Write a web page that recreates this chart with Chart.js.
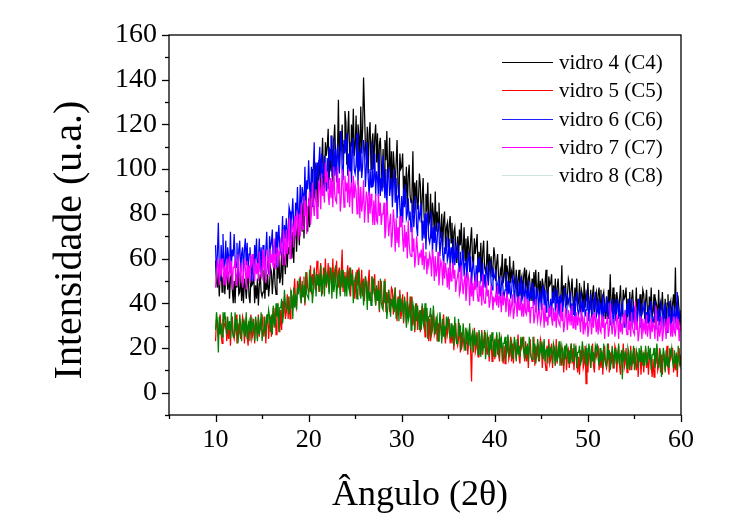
<!DOCTYPE html>
<html>
<head>
<meta charset="utf-8">
<script src="https://cdn.jsdelivr.net/npm/chart.js@4/dist/chart.umd.min.js"></script>
<style>
html,body{margin:0;padding:0;background:#fff;}
#wrap{width:743px;height:522px;}
</style>
</head>
<body>
<div id="wrap"><canvas id="c" width="743" height="522"></canvas></div>
<script>
// ---- data (2θ in degrees, intensity in u.a.) ----
const angles = [
10,10.1,10.2,10.3,10.4,10.5,10.6,10.7,10.8,10.9,11,11.1,11.2,11.3,11.4,11.5,11.6,11.7,11.8,11.9,
12,12.1,12.2,12.3,12.4,12.5,12.6,12.7,12.8,12.9,13,13.1,13.2,13.3,13.4,13.5,13.6,13.7,13.8,13.9,
14,14.1,14.2,14.3,14.4,14.5,14.6,14.7,14.8,14.9,15,15.1,15.2,15.3,15.4,15.5,15.6,15.7,15.8,15.9,
16,16.1,16.2,16.3,16.4,16.5,16.6,16.7,16.8,16.9,17,17.1,17.2,17.3,17.4,17.5,17.6,17.7,17.8,17.9,
18,18.1,18.2,18.3,18.4,18.5,18.6,18.7,18.8,18.9,19,19.1,19.2,19.3,19.4,19.5,19.6,19.7,19.8,19.9,
20,20.1,20.2,20.3,20.4,20.5,20.6,20.7,20.8,20.9,21,21.1,21.2,21.3,21.4,21.5,21.6,21.7,21.8,21.9,
22,22.1,22.2,22.3,22.4,22.5,22.6,22.7,22.8,22.9,23,23.1,23.2,23.3,23.4,23.5,23.6,23.7,23.8,23.9,
24,24.1,24.2,24.3,24.4,24.5,24.6,24.7,24.8,24.9,25,25.1,25.2,25.3,25.4,25.5,25.6,25.7,25.8,25.9,
26,26.1,26.2,26.3,26.4,26.5,26.6,26.7,26.8,26.9,27,27.1,27.2,27.3,27.4,27.5,27.6,27.7,27.8,27.9,
28,28.1,28.2,28.3,28.4,28.5,28.6,28.7,28.8,28.9,29,29.1,29.2,29.3,29.4,29.5,29.6,29.7,29.8,29.9,
30,30.1,30.2,30.3,30.4,30.5,30.6,30.7,30.8,30.9,31,31.1,31.2,31.3,31.4,31.5,31.6,31.7,31.8,31.9,
32,32.1,32.2,32.3,32.4,32.5,32.6,32.7,32.8,32.9,33,33.1,33.2,33.3,33.4,33.5,33.6,33.7,33.8,33.9,
34,34.1,34.2,34.3,34.4,34.5,34.6,34.7,34.8,34.9,35,35.1,35.2,35.3,35.4,35.5,35.6,35.7,35.8,35.9,
36,36.1,36.2,36.3,36.4,36.5,36.6,36.7,36.8,36.9,37,37.1,37.2,37.3,37.4,37.5,37.6,37.7,37.8,37.9,
38,38.1,38.2,38.3,38.4,38.5,38.6,38.7,38.8,38.9,39,39.1,39.2,39.3,39.4,39.5,39.6,39.7,39.8,39.9,
40,40.1,40.2,40.3,40.4,40.5,40.6,40.7,40.8,40.9,41,41.1,41.2,41.3,41.4,41.5,41.6,41.7,41.8,41.9,
42,42.1,42.2,42.3,42.4,42.5,42.6,42.7,42.8,42.9,43,43.1,43.2,43.3,43.4,43.5,43.6,43.7,43.8,43.9,
44,44.1,44.2,44.3,44.4,44.5,44.6,44.7,44.8,44.9,45,45.1,45.2,45.3,45.4,45.5,45.6,45.7,45.8,45.9,
46,46.1,46.2,46.3,46.4,46.5,46.6,46.7,46.8,46.9,47,47.1,47.2,47.3,47.4,47.5,47.6,47.7,47.8,47.9,
48,48.1,48.2,48.3,48.4,48.5,48.6,48.7,48.8,48.9,49,49.1,49.2,49.3,49.4,49.5,49.6,49.7,49.8,49.9,
50,50.1,50.2,50.3,50.4,50.5,50.6,50.7,50.8,50.9,51,51.1,51.2,51.3,51.4,51.5,51.6,51.7,51.8,51.9,
52,52.1,52.2,52.3,52.4,52.5,52.6,52.7,52.8,52.9,53,53.1,53.2,53.3,53.4,53.5,53.6,53.7,53.8,53.9,
54,54.1,54.2,54.3,54.4,54.5,54.6,54.7,54.8,54.9,55,55.1,55.2,55.3,55.4,55.5,55.6,55.7,55.8,55.9,
56,56.1,56.2,56.3,56.4,56.5,56.6,56.7,56.8,56.9,57,57.1,57.2,57.3,57.4,57.5,57.6,57.7,57.8,57.9,
58,58.1,58.2,58.3,58.4,58.5,58.6,58.7,58.8,58.9,59,59.1,59.2,59.3,59.4,59.5,59.6,59.7,59.8,59.9,
60];

const vidro4 = [
59,50,47,55,43,53,57,45,51,53, 44,52,56,46,54,42,51,53,46,40,
50,40,53,47,55,44,45,53,41,50, 40,51,48,42,49,55,43,40,52,48,
49,53,40,48,42,51,39,48,53,45, 43,45,55,42,51,46,53,43,48,56,
54,44,52,58,48,44,57,51,62,49, 52,63,48,62,60,53,70,56,65,62,
73,63,60,72,58,72,77,63,73,77, 66,79,86,72,85,69,83,88,79,72,
87,74,94,87,100,85,88,103,86,100, 83,104,99,90,103,114,95,91,112,106,
110,118,95,109,99,115,94,112,120,105, 103,107,131,99,117,108,120,104,111,126,
121,102,116,126,107,99,120,110,127,106, 110,124,101,120,115,104,128,107,118,141,
126,110,104,119,98,116,121,100,112,116, 100,114,120,103,116,95,111,114,103,92,
109,92,113,104,117,97,99,114,92,108, 88,108,101,92,103,113,92,87,107,100,
101,107,87,97,88,101,81,97,102,88, 85,89,108,80,94,85,95,82,86,98,
93,76,87,96,79,72,89,81,94,75, 77,89,69,85,80,71,90,72,81,76,
85,74,69,80,64,77,81,65,74,76, 65,75,79,67,76,61,72,74,66,58,
70,58,73,66,76,62,63,74,59,69, 56,70,65,58,68,74,60,56,69,62,
66,71,54,63,56,67,50,63,68,56, 54,57,68,50,62,55,61,52,56,65,
61,50,58,62,52,47,55,53,62,49, 52,60,47,57,54,47,61,49,54,51,
59,50,47,55,43,51,55,43,50,52, 44,52,56,47,55,42,51,53,47,41,
51,41,54,47,55,44,46,54,41,50, 40,51,48,42,49,55,44,41,52,48,
49,53,40,48,42,51,38,47,51,43, 41,43,57,39,48,43,49,39,43,51,
49,38,46,51,41,35,47,41,51,38, 41,49,36,46,44,37,50,38,44,41,
49,40,37,46,34,44,48,36,43,45, 36,44,47,38,46,34,43,45,39,33,
43,33,46,40,53,37,39,47,35,44, 34,45,41,35,42,48,37,34,46,42,
43,47,34,42,36,45,32,42,46,38, 36,37,47,33,42,37,44,34,38,46,
44,33,41,46,36,31,43,37,47,34, 36,44,31,41,39,32,46,34,40,37,
45,36,33,42,30,40,44,32,39,41, 32,40,44,35,56,31,40,42,36,30,
37];

const vidro5 = [
23,33,30,25,31,35,26,22,33,29, 31,34,23,29,24,32,21,30,34,26,
24,27,35,22,31,26,32,24,27,34, 32,22,29,34,25,21,32,27,35,24,
26,33,22,31,29,24,35,25,31,28, 35,28,25,34,22,32,35,24,31,34,
25,33,38,29,38,26,35,38,32,27, 37,28,41,35,43,33,36,44,33,43,
33,45,43,37,44,51,40,38,50,47, 48,52,40,48,43,52,39,48,54,47,
45,47,57,44,53,48,56,46,51,59, 56,45,53,58,48,44,56,50,60,47,
50,58,45,55,53,46,60,48,54,51, 59,50,47,56,44,54,64,45,52,54,
45,53,57,48,56,43,52,55,48,42, 52,42,55,48,56,45,47,55,43,51,
41,52,49,42,49,55,44,41,52,48, 49,53,39,47,41,50,36,46,50,41,
39,41,51,36,45,40,46,36,41,47, 46,35,42,47,37,32,43,37,46,33,
36,44,31,41,38,31,45,33,38,36, 43,34,30,39,27,36,40,28,35,36,
27,35,39,32,38,25,34,36,29,23, 33,23,35,28,37,26,28,34,23,31,
23,33,29,24,30,35,26,22,30,26, 30,33,22,26,22,30,19,26,31,23,
21,24,31,18,27,22,25,20,22,28, 27,17,24,29,19,5,26,21,29,18,
20,27,16,25,23,17,28,17,23,20, 27,20,17,25,14,23,25,14,21,23,
15,22,26,17,24,14,21,24,18,13, 21,13,23,18,25,15,17,25,14,22,
13,23,20,15,21,26,16,13,24,20, 22,25,14,20,14,22,11,20,24,16,
14,17,25,12,21,16,22,14,17,24, 22,11,18,23,14,10,21,16,24,13,
15,22,11,20,18,12,24,13,19,16, 22,15,12,20,9,18,21,10,17,19,
11,18,22,13,20,10,17,20,14,9, 16,8,19,14,21,11,13,21,4,18,
9,19,16,11,17,22,12,9,20,16, 18,21,10,16,11,19,8,17,21,13,
11,14,22,9,18,13,19,11,14,21, 19,9,16,21,12,8,19,14,22,11,
13,20,9,18,15,10,21,10,16,13, 20,13,10,18,7,16,19,8,15,17,
9,16,20,11,18,8,15,18,12,7, 15,7,18,13,20,10,12,20,9,17,
8,18,15,10,16,21,11,8,19,15, 17,20,9,15,10,18,7,16,20,12,
17];

const vidro6 = [
66,52,62,76,56,50,66,59,71,55, 58,68,52,65,61,54,72,56,64,61,
71,60,56,67,52,64,68,53,62,65, 54,64,69,57,67,52,62,65,57,50,
62,50,66,59,69,56,58,69,54,65, 52,66,61,55,64,72,57,53,70,65,
67,73,57,66,60,72,56,67,75,65, 63,67,79,62,75,69,78,67,73,83,
81,68,79,87,75,70,85,79,92,77, 80,93,75,92,89,82,101,84,95,91,
104,92,87,101,83,100,112,87,99,103, 91,103,110,96,107,91,101,106,98,90,
105,91,110,104,115,98,100,114,97,109, 94,111,106,98,109,117,100,95,113,107,
110,116,97,107,99,112,93,108,114,100, 98,102,116,93,108,99,110,96,101,113,
109,92,101,112,96,88,100,92,112,92, 95,107,88,99,96,87,107,88,96,90,
106,93,87,100,82,97,101,88,92,96, 83,95,100,85,96,78,88,93,83,75,
88,76,91,83,93,78,80,87,77,81, 72,86,81,74,82,88,74,70,84,78,
80,85,68,77,69,80,64,76,81,69, 67,70,81,62,74,67,75,63,68,76,
72,61,68,72,62,57,65,62,70,59, 61,69,55,65,62,55,69,57,63,60,
67,58,54,63,51,60,64,52,58,60, 51,59,63,54,61,48,56,58,53,47,
57,47,60,54,61,50,52,58,47,53, 47,57,53,48,54,59,49,46,56,51,
52,55,44,48,44,52,40,48,52,45, 43,46,54,41,50,44,50,42,45,52,
50,40,47,52,43,38,49,44,52,41, 43,50,39,47,45,40,50,40,45,42,
49,42,39,47,36,44,47,36,43,45, 37,44,48,39,46,36,42,45,39,34,
42,34,45,40,47,37,39,46,35,43, 34,44,41,36,42,47,37,33,44,40,
42,45,34,40,35,43,32,41,45,37, 35,38,45,32,41,36,42,34,37,44,
42,32,39,44,35,31,42,37,45,34, 36,42,31,40,38,32,44,33,39,36,
43,36,33,41,30,39,42,31,38,40, 32,38,42,33,40,30,37,40,34,29,
37,29,40,35,42,32,34,42,31,39, 30,39,36,31,37,42,32,29,40,36,
38,41,30,36,31,39,28,37,41,33, 31,34,41,28,37,32,38,30,33,40,
38,28,35,40,31,27,38,33,41,30, 32,39,28,37,35,29,45,30,36,33,
32];

const vidro7 = [
47,53,59,57,48,60,52,60,56,48, 57,48,60,52,50,61,53,59,46,56,
56,60,48,51,62,56,49,55,58,47, 52,60,56,46,59,51,57,49,62,58,
62,54,50,60,53,58,50,63,55,52, 51,64,55,61,49,55,64,58,52,64,
58,62,56,69,55,62,65,56,63,62, 68,66,57,73,69,57,73,62,67,78,
60,68,76,74,65,79,70,80,78,68, 80,70,85,75,73,88,79,86,71,83,
84,90,75,80,94,85,79,86,91,78, 84,95,91,82,98,88,91,85,103,94,
99,89,84,96,87,95,83,101,89,86, 85,101,89,96,81,87,100,93,83,97,
90,94,85,100,83,91,94,80,97,87, 93,90,80,95,91,78,92,81,85,95,
76,83,90,87,76,90,80,89,83,75, 86,75,89,77,76,89,79,85,75,80,
80,85,69,73,86,79,70,76,80,65, 71,82,76,63,78,67,74,65,79,74,
79,69,63,75,65,72,60,77,67,62, 61,74,63,69,56,61,70,64,57,62,
61,64,57,67,55,61,63,53,60,57, 62,60,52,64,60,50,61,52,55,63,
48,54,59,57,48,59,51,58,54,47, 56,46,58,50,52,58,51,55,45,50,
52,56,44,46,57,49,44,50,52,41, 46,54,50,39,52,43,49,41,50,46,
53,45,41,50,43,48,39,53,42,40, 40,50,43,46,38,41,48,43,37,42,
41,44,39,48,38,43,43,36,45,39, 43,42,36,44,42,34,42,36,39,44,
33,37,42,40,34,43,37,43,40,34, 40,34,43,36,35,42,36,41,31,38,
38,41,31,34,42,36,32,36,37,31, 33,40,37,29,39,32,34,30,38,35,
39,33,30,38,32,36,29,40,33,31, 30,40,32,36,27,31,38,34,28,37,
32,35,30,39,29,34,34,28,36,30, 34,33,27,36,34,26,34,28,31,36,
25,29,34,32,26,35,29,36,33,27, 33,26,35,28,27,35,29,34,24,31,
31,34,25,28,40,32,26,31,33,25, 28,35,32,24,34,27,31,26,35,32,
35,29,26,34,28,32,25,36,29,27, 26,41,28,32,23,27,34,30,24,33,
28,31,26,35,25,30,31,24,33,27, 31,30,24,39,31,23,32,25,28,34,
23,27,32,30,24,33,27,34,31,25, 31,25,34,27,26,34,28,33,23,30,
28];

const vidro8 = [
28,36,32,18,34,26,31,25,36,33, 36,29,26,34,28,32,24,36,28,25,
25,36,28,33,22,26,35,30,23,33, 28,31,25,36,24,30,32,23,34,27,
32,30,23,34,31,23,34,26,29,36, 23,28,34,31,25,35,31,37,34,27,
35,26,39,31,30,40,34,40,27,38, 38,42,31,35,46,40,37,39,43,35,
38,46,43,33,47,38,44,37,47,44, 51,43,40,50,43,48,40,54,44,43,
42,55,45,52,40,45,55,50,43,53, 48,51,45,57,43,50,53,43,56,48,
53,51,44,56,52,42,54,45,48,57, 42,48,54,52,43,55,47,55,51,43,
52,43,55,47,45,56,48,53,40,50, 50,54,42,45,55,49,42,47,50,39,
44,52,48,37,50,41,45,39,52,44, 51,43,39,48,41,46,37,51,40,38,
37,50,40,45,33,38,46,41,34,42, 39,42,36,47,33,39,42,32,44,36,
41,39,32,43,39,29,41,32,34,43, 28,34,40,37,28,40,32,39,34,28,
37,28,40,31,29,40,32,38,24,34, 34,38,26,28,39,31,26,32,34,23,
28,36,32,22,33,25,30,24,34,30, 34,27,24,31,25,30,21,34,25,22,
22,33,25,30,19,23,31,26,19,29, 24,27,21,31,19,25,27,18,28,21,
26,24,17,28,25,16,27,19,21,28, 15,20,26,23,16,26,19,27,23,16,
24,16,27,19,17,27,20,25,14,22, 22,25,16,18,26,22,16,21,23,15,
18,25,22,14,24,17,21,16,25,22, 25,18,15,23,17,21,14,25,18,16,
15,25,18,22,13,17,24,20,14,23, 18,21,15,24,14,19,20,13,22,16,
20,19,13,22,20,12,21,14,17,23, 12,16,21,18,12,21,15,22,19,13,
19,13,22,15,14,22,16,21,11,18, 18,21,12,15,23,19,13,18,20,12,
15,22,19,11,21,14,18,13,21,19, 22,15,12,20,14,18,11,22,15,13,
12,22,15,19,10,14,21,17,11,20, 15,18,13,22,12,17,18,6,20,14,
18,17,11,20,18,10,19,12,15,21, 10,14,19,17,11,20,14,21,18,12,
18,12,21,14,13,21,15,20,10,17, 17,20,11,14,22,17,11,16,18,7,
13,20,17,9,19,12,16,11,20,17, 20,14,11,19,13,17,10,21,14,12,
15];

const seriesNames = ['vidro 4 (C4)','vidro 5 (C5)','vidro 6 (C6)','vidro 7 (C7)','vidro 8 (C8)'];
const seriesValues = [vidro4, vidro5, vidro6, vidro7, vidro8];
const xTickLabels = [10,20,30,40,50,60];
const yTickLabels = [0,20,40,60,80,100,120,140,160];
const xTitle = 'Ângulo (2θ)';
const yTitle = 'Intensidade (u.a.)';

// ---- styling ----
const lineColors = ['#000000','#ff0000','#0000ff','#ff00ff','#008000'];
const legendColors = ['#000000','#ff0000','#2020ff','#ff00ff','#cfe4dc'];
const FONT = '"Liberation Serif","Times New Roman",serif';

const datasets = seriesValues.map((vals, i) => ({
  label: seriesNames[i],
  data: vals.map((v, j) => ({x: angles[j], y: v})),
  borderColor: lineColors[i],
  borderWidth: 1.25,
  pointRadius: 0,
  tension: 0,
  fill: false,
  order: seriesValues.length - i
}));

const decor = {
  id: 'decor',
  beforeDraw(chart) {
    const ctx = chart.ctx;
    ctx.save();
    ctx.fillStyle = '#fff';
    ctx.fillRect(0, 0, chart.width, chart.height);
    ctx.restore();
  },
  afterDraw(chart) {
    const ctx = chart.ctx;
    const a = chart.chartArea;
    const xs = chart.scales.x, ys = chart.scales.y;
    ctx.save();
    ctx.strokeStyle = '#000';
    ctx.lineWidth = 1.3;
    ctx.strokeRect(a.left, a.top, a.right - a.left, a.bottom - a.top);
    for (let v = xs.min; v <= xs.max + 1e-6; v += 5) {
      const px = Math.round(xs.getPixelForValue(v)) + 0.5;
      const len = (v % 10 === 0) ? 7 : 4;
      ctx.beginPath(); ctx.moveTo(px, a.bottom); ctx.lineTo(px, a.bottom + len); ctx.stroke();
    }
    for (let v = ys.min; v <= ys.max + 1e-6; v += 10) {
      const py = Math.round(ys.getPixelForValue(v)) + 0.5;
      const len = (v % 20 === 0) ? 7 : 4;
      ctx.beginPath(); ctx.moveTo(a.left, py); ctx.lineTo(a.left - len, py); ctx.stroke();
    }
    ctx.fillStyle = '#000';
    ctx.font = '36px ' + FONT;
    ctx.textAlign = 'center';
    ctx.textBaseline = 'alphabetic';
    ctx.fillText(xTitle, 420, 505);
    ctx.save();
    ctx.translate(81, 240);
    ctx.rotate(-Math.PI / 2);
    ctx.font = '40px ' + FONT;
    ctx.fillText(yTitle, 0, 0);
    ctx.restore();
    ctx.font = '21px ' + FONT;
    ctx.textAlign = 'left';
    ctx.textBaseline = 'middle';
    seriesNames.forEach((name, i) => {
      const y = Math.round(62 + i * 28.3) + 0.5;
      ctx.strokeStyle = legendColors[i];
      ctx.lineWidth = 1;
      ctx.beginPath(); ctx.moveTo(502, y); ctx.lineTo(553, y); ctx.stroke();
      ctx.fillStyle = '#000';
      ctx.fillText(name, 559, y + 1);
    });
    ctx.restore();
  }
};

new Chart(document.getElementById('c'), {
  type: 'line',
  data: { datasets },
  options: {
    responsive: false,
    animation: false,
    devicePixelRatio: 1,
    layout: { padding: { left: 0, top: 35, right: 62, bottom: 0 } },
    plugins: { legend: { display: false }, tooltip: { enabled: false } },
    scales: {
      x: {
        type: 'linear', min: 5, max: 60,
        afterFit(s) { s.height = 107; },
        afterBuildTicks(s) { s.ticks = xTickLabels.map(v => ({value: v})); },
        grid: { display: false, drawTicks: false },
        border: { display: false },
        ticks: { color: '#000', padding: 10, font: { family: FONT, size: 26 }, maxRotation: 0, autoSkip: false }
      },
      y: {
        type: 'linear', min: -10, max: 160,
        afterFit(s) { s.width = 169; },
        afterBuildTicks(s) { s.ticks = yTickLabels.map(v => ({value: v})); },
        grid: { display: false, drawTicks: false },
        border: { display: false },
        ticks: { color: '#000', padding: 12, font: { family: FONT, size: 28 }, autoSkip: false }
      }
    }
  },
  plugins: [decor]
});
</script>
</body>
</html>
